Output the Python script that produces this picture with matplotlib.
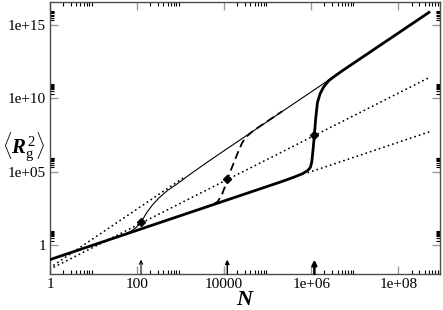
import numpy as np
import matplotlib
matplotlib.use('Agg')
import matplotlib.pyplot as plt
from matplotlib import rcParams

rcParams['font.family'] = ['Liberation Serif', 'DejaVu Serif']
rcParams['mathtext.fontset'] = 'custom'
rcParams['mathtext.rm'] = 'Liberation Serif'
rcParams['mathtext.it'] = 'Liberation Serif:italic'
rcParams['mathtext.bf'] = 'Liberation Serif:bold'
rcParams['mathtext.bfit'] = 'Liberation Serif:italic:bold'

# curves as log10 values
thin_logN = [0, 1.0, 1.5, 1.7, 1.85, 1.97, 2.05, 2.09, 2.15, 2.22, 2.35, 2.5, 2.7, 2.9, 3.2, 3.6, 4.0, 8.7]
thin_logR = [-1.0, 0.0, 0.5, 0.71, 0.92, 1.17, 1.42, 1.57, 1.85, 2.2, 2.72, 3.2, 3.72, 4.12, 4.78, 5.62, 6.43, 15.85]

dash_logN = [3.5, 3.75, 3.85, 3.95, 4.02, 4.07, 4.14, 4.22, 4.32, 4.41, 4.5, 4.6, 4.7, 5.0, 5.33]
dash_logR = [2.5, 2.77, 2.95, 3.45, 4.0, 4.47, 5.0, 5.6, 6.35, 6.95, 7.35, 7.62, 7.85, 8.45, 9.11]

thick_logN = [0, 5.3, 5.6, 5.8, 5.92, 5.98, 6.01, 6.04, 6.07, 6.1, 6.14, 6.2, 6.28, 6.4, 6.52, 6.7, 8.7]
thick_logR = [-1.0, 4.3, 4.62, 4.86, 5.08, 5.3, 5.65, 6.5, 7.5, 8.6, 9.7, 10.3, 10.75, 11.2, 11.47, 11.85, 15.85]

# dotted guide lines (end points)
rod_logN = [0, 3.05]
rod_logR = [-1.55, 4.55]
mid_logN = [0, 8.7]
mid_logR = [-1.65, 11.4]
gauss_logN = [5.93, 8.7]
gauss_logR = [4.93, 7.7]

# crossover points (diamonds + arrows)
star_logN = [2.09, 4.07, 6.07]
star_logR = [1.57, 4.47, 7.5]

xticks = [1, 1e2, 1e4, 1e6, 1e8]
xticklabels = ['1', '100', '10000', '1e+06', '1e+08']
yticks = [1, 1e5, 1e10, 1e15]
yticklabels = ['1', '1e+05', '1e+10', '1e+15']


def p(v):
    return 10.0 ** np.asarray(v, dtype=float)


fig = plt.figure(figsize=(4.43, 3.10), dpi=100)
ax = fig.add_axes([50 / 443, 36 / 310, 390 / 443, 272 / 310])
ax.set_xscale('log')
ax.set_yscale('log')
ax.set_xlim(1, 10 ** 8.67)
ax.set_ylim(10 ** -1.98, 10 ** 16.56)

dot = dict(color='black', lw=1.3, linestyle=(0, (0.1, 2.5)), dash_capstyle='round')
ax.plot(p(rod_logN), p(rod_logR), **dot)
ax.plot(p(mid_logN), p(mid_logR), **dot)
ax.plot(p(gauss_logN), p(gauss_logR), **dot)

ax.plot(p(thin_logN), p(thin_logR), color='black', lw=0.8, zorder=3)
ax.plot(p(dash_logN), p(dash_logR), color='black', lw=1.3, linestyle=(0, (4.5, 2.5)), zorder=3)
ax.plot(p(thick_logN), p(thick_logR), color='black', lw=2.0, zorder=4,
        solid_joinstyle='round')

ax.plot(p(star_logN), p(star_logR), linestyle='none', marker='D', markersize=4.5,
        color='black', zorder=5)

# arrows on the N axis
styles = [('->', 0.8, 6), ('-|>', 1.0, 6), ('-|>', 1.8, 7)]
for n, (st, lw, ms) in zip(p(star_logN), styles):
    ax.annotate('', xy=(n, 10 ** -1.0), xytext=(n, 10 ** -1.98),
                arrowprops=dict(arrowstyle=st, lw=lw, color='black',
                                mutation_scale=ms, shrinkA=0, shrinkB=0),
                zorder=6)

# ticks
ax.set_xticks(xticks, labels=xticklabels)
ax.set_yticks(yticks, labels=yticklabels)
xminor = [m * 10.0 ** k for k in (0, 2, 4, 6, 8) for m in range(2, 10)]
yminor = [m * 10.0 ** k for k in (0, 5, 10, 15) for m in range(2, 10)]
ax.set_xticks(xminor, minor=True)
ax.set_yticks(yminor, minor=True)
ax.set_xticklabels([], minor=True)
ax.set_yticklabels([], minor=True)
ax.tick_params(which='major', direction='in', length=6, width=1.0, color='0.6',
               top=True, right=True, labelsize=11, pad=3)
ax.tick_params(which='minor', direction='in', length=3, width=0.8, color='black',
               top=True, right=True)
for s in ax.spines.values():
    s.set_linewidth(1.0)
    s.set_color('0.3')

ax.set_xlabel(r'$\mathbfit{N}$', fontsize=16, labelpad=0)
ax.text(-0.068, 0.47, r'$\langle\mathbfit{R}_{\mathrm{g}}^{\,2}\rangle$', transform=ax.transAxes,
        fontsize=15, ha='center', va='center')

fig.savefig('out.png', dpi=100)
